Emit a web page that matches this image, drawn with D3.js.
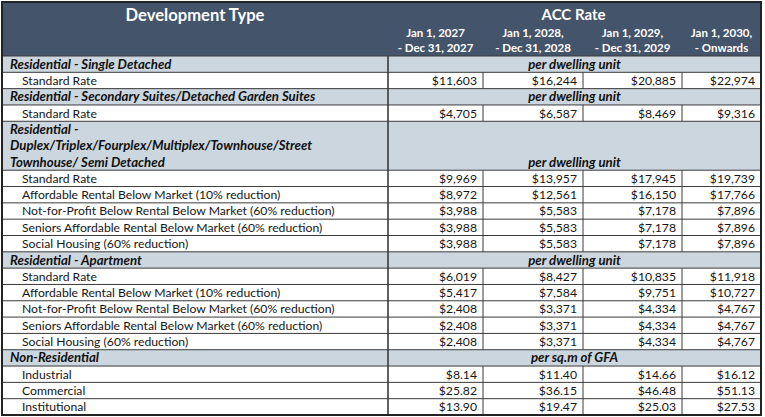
<!DOCTYPE html>
<html>
<head>
<meta charset="utf-8">
<script src="https://cdn.jsdelivr.net/npm/d3@7"></script>
<style>
  html, body { margin: 0; padding: 0; background: #ffffff; }
  text { font-family: Lato, "Open Sans", sans-serif; }
</style>
</head>
<body>
<svg id="acc-svg"></svg>
<script>
const headerFirst = "Development Type";
const headerRates = "ACC Rate";
const periodStart = ["Jan 1, 2027", "Jan 1, 2028,", "Jan 1, 2029,", "Jan 1, 2030,"];
const periodEnd = ["- Dec 31, 2027", "- Dec 31, 2028", "- Dec 31, 2029", "- Onwards"];

const sectionNames = [
    ["Residential - Single Detached"],
    ["Residential - Secondary Suites/Detached Garden Suites"],
    ["Residential -", "Duplex/Triplex/Fourplex/Multiplex/Townhouse/Street", "Townhouse/ Semi Detached"],
    ["Residential - Apartment"],
    ["Non-Residential"]
];
const sectionUnits = ["per dwelling unit", "per dwelling unit", "per dwelling unit", "per dwelling unit", "per sq.m of GFA"];

const rowLabels = [
    ["Standard Rate"],
    ["Standard Rate"],
    ["Standard Rate", "Affordable Rental Below Market (10% reduction)", "Not-for-Profit Below Rental Below Market (60% reduction)",
     "Seniors Affordable Rental Below Market (60% reduction)", "Social Housing (60% reduction)"],
    ["Standard Rate", "Affordable Rental Below Market (10% reduction)", "Not-for-Profit Below Rental Below Market (60% reduction)",
     "Seniors Affordable Rental Below Market (60% reduction)", "Social Housing (60% reduction)"],
    ["Industrial", "Commercial", "Institutional"]
];

const rates = [
    [[11603, 16244, 20885, 22974]],
    [[4705, 6587, 8469, 9316]],
    [[9969, 13957, 17945, 19739], [8972, 12561, 16150, 17766], [3988, 5583, 7178, 7896], [3988, 5583, 7178, 7896], [3988, 5583, 7178, 7896]],
    [[6019, 8427, 10835, 11918], [5417, 7584, 9751, 10727], [2408, 3371, 4334, 4767], [2408, 3371, 4334, 4767], [2408, 3371, 4334, 4767]],
    [[8.14, 11.40, 14.66, 16.12], [25.82, 36.15, 46.48, 51.13], [13.90, 19.47, 25.03, 27.53]]
];

// ---- layout ----
const width = 765;
const height = 417;
const tableLeft = 2, tableRight = 761, tableTop = 2, headerBottom = 56, tableBottom = 415;
const colEdges = [388, 483, 583, 682, tableRight];
const headerFill = "#44546a";
const sectionFill = "#ccd6df";
const lineColor = "#3a3a3a";
const boldSize = "13.2px";

let svg = d3.select("#acc-svg").attr("width", width).attr("height", height);

// flatten into rows measured in "lines"
let rows = [];
let line = 0;
sectionNames.forEach((names, s) => {
    rows.push({ type: "section", names: names, unit: sectionUnits[s], start: line, span: names.length });
    line += names.length;
    rowLabels[s].forEach((label, r) => {
        rows.push({ type: "item", label: label, values: rates[s][r], unit: sectionUnits[s], start: line, span: 1 });
        line += 1;
    });
});
const totalLines = line;

const yScale = d3.scaleLinear().domain([0, totalLines]).range([headerBottom, tableBottom]);
const colLeft = d3.scaleOrdinal().domain(d3.range(periodStart.length)).range(colEdges.slice(0, 4));
const colRight = d3.scaleOrdinal().domain(d3.range(periodStart.length)).range(colEdges.slice(1));

const fmtUnit = d3.format("$,");
const fmtArea = d3.format("$,.2f");

// header
svg.append("rect")
    .attr("x", tableLeft).attr("y", tableTop)
    .attr("width", tableRight - tableLeft).attr("height", headerBottom - tableTop)
    .attr("fill", headerFill);

svg.append("text")
    .attr("x", (tableLeft + colEdges[0]) / 2).attr("y", 21)
    .attr("text-anchor", "middle")
    .style("font-size", "16.6px").style("font-weight", "bold").style("fill", "white")
    .text(headerFirst);

svg.append("text")
    .attr("x", (colEdges[0] + tableRight) / 2 - 1).attr("y", 20)
    .attr("text-anchor", "middle")
    .style("font-size", "15px").style("font-weight", "bold").style("fill", "white")
    .text(headerRates);

let periodG = svg.selectAll(".period").data(d3.range(periodStart.length)).enter().append("g").attr("class", "period");
periodG.append("text")
    .attr("x", i => (colLeft(i) + colRight(i)) / 2).attr("y", 37)
    .attr("text-anchor", "middle")
    .style("font-size", "11.5px").style("font-weight", "bold").style("fill", "white")
    .text(i => periodStart[i]);
periodG.append("text")
    .attr("x", i => (colLeft(i) + colRight(i)) / 2).attr("y", 52)
    .attr("text-anchor", "middle")
    .style("font-size", "11.5px").style("font-weight", "bold").style("fill", "white")
    .text(i => periodEnd[i]);

// row backgrounds
svg.selectAll(".row-bg").data(rows).enter().append("rect")
    .attr("class", "row-bg")
    .attr("x", tableLeft).attr("y", d => yScale(d.start))
    .attr("width", tableRight - tableLeft)
    .attr("height", d => yScale(d.start + d.span) - yScale(d.start))
    .attr("fill", d => d.type === "section" ? sectionFill : "#ffffff");

// horizontal rules
svg.selectAll(".hline").data(rows).enter().append("line")
    .attr("class", "hline")
    .attr("x1", tableLeft).attr("x2", tableRight)
    .attr("y1", d => yScale(d.start)).attr("y2", d => yScale(d.start))
    .attr("stroke", lineColor).attr("stroke-width", 1);

// vertical rule after first column
svg.append("line")
    .attr("x1", colEdges[0]).attr("x2", colEdges[0])
    .attr("y1", headerBottom).attr("y2", tableBottom)
    .attr("stroke", lineColor).attr("stroke-width", 1.6);

// vertical rules between value columns, only on item rows
let items = rows.filter(d => d.type === "item");
items.forEach(d => {
    svg.selectAll(null).data([1, 2, 3]).enter().append("line")
        .attr("x1", i => colLeft(i)).attr("x2", i => colLeft(i))
        .attr("y1", yScale(d.start)).attr("y2", yScale(d.start + 1))
        .attr("stroke", lineColor).attr("stroke-width", 1);
});

// section labels
let sections = rows.filter(d => d.type === "section");
sections.forEach(d => {
    svg.selectAll(null).data(d.names).enter().append("text")
        .attr("x", 10)
        .attr("y", (n, k) => yScale(d.start + k + 0.5) + 4.6)
        .style("font-size", boldSize).style("font-weight", "bold").style("font-style", "italic")
        .style("fill", "#111")
        .text(n => n);
    svg.append("text")
        .attr("x", (colEdges[0] + tableRight) / 2)
        .attr("y", yScale(d.start + d.span - 0.5) + 4.6)
        .attr("text-anchor", "middle")
        .style("font-size", boldSize).style("font-weight", "bold").style("font-style", "italic")
        .style("fill", "#111")
        .text(d.unit);
});

// item labels and values
svg.selectAll(".item-label").data(items).enter().append("text")
    .attr("class", "item-label")
    .attr("x", 22)
    .attr("y", d => yScale(d.start + 0.5) + 4.4)
    .style("font-size", "12.2px").style("fill", "#161616")
    .text(d => d.label);

items.forEach(d => {
    const fmt = d.unit.indexOf("sq.m") >= 0 ? fmtArea : fmtUnit;
    svg.selectAll(null).data(d.values).enter().append("text")
        .attr("x", (v, i) => colRight(i) - 6)
        .attr("y", yScale(d.start + 0.5) + 4.4)
        .attr("text-anchor", "end")
        .style("font-size", "12.2px").style("fill", "#161616")
        .text(v => fmt(v));
});

// outer border
svg.append("rect")
    .attr("x", tableLeft).attr("y", tableTop)
    .attr("width", tableRight - tableLeft).attr("height", tableBottom - tableTop)
    .attr("fill", "none").attr("stroke", "#222").attr("stroke-width", 2);
</script>
</body>
</html>
